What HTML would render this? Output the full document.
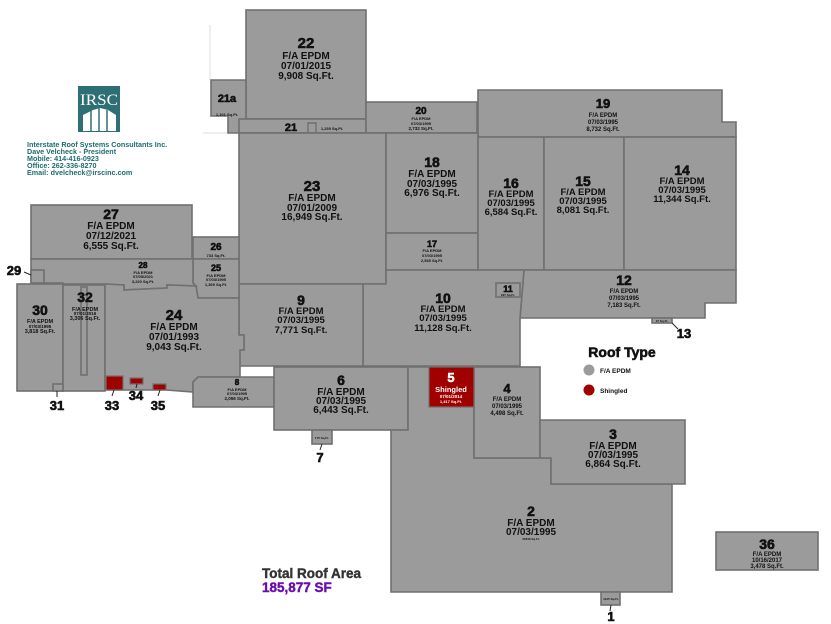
<!DOCTYPE html>
<html><head><meta charset="utf-8"><style>
html,body{margin:0;padding:0;background:#fff;}
svg{display:block;}
text{font-family:"Liberation Sans",Arial,sans-serif;font-weight:bold;text-anchor:middle;fill:#111;}
.n{stroke:#111;stroke-width:0.6;}
</style></head><body>
<svg width="831" height="624" viewBox="0 0 831 624" xmlns="http://www.w3.org/2000/svg">
<g fill="none" stroke="#ddd" stroke-width="1">
<line x1="210" y1="25" x2="210" y2="80"/><line x1="203" y1="133" x2="239" y2="133"/>
</g>
<g fill="#9b9b9b" stroke="#707070" stroke-width="1.6">
<rect x="246" y="10" width="120" height="109"/>
<polygon points="211,80 246,80 246,133 228,133 228,116 211,116"/>
<rect x="239" y="119" width="127" height="14"/>
<rect x="366" y="102" width="111" height="31"/>
<polygon points="478,90 722,90 722,122 736,122 736,137 478,137"/>
<rect x="239" y="133" width="147" height="151"/>
<rect x="386" y="133" width="92" height="100"/>
<rect x="386" y="233" width="92" height="37"/>
<rect x="478" y="137" width="66" height="133"/>
<rect x="544" y="137" width="80" height="133"/>
<rect x="624" y="137" width="112" height="133"/>
<polygon points="524,270 736,270 736,303 705,303 705,318 520,318"/>
<rect x="652" y="318" width="20" height="5"/>
<polygon points="386,270 524,270 520,318 520,366 363,366 363,284 386,284"/>
<rect x="496" y="283" width="24" height="14"/>
<polygon points="239,284 363,284 363,366 239,366 239,350 244,350 244,335 239,335"/>
<rect x="31" y="205" width="161" height="54"/>
<rect x="193" y="237" width="46" height="22"/>
<polygon points="193,259 239,259 239,298 198,298 196,286 193,283"/>
<polygon points="31,259 193,259 193,283 196,286 167,285 167,288 124,290 124,285 105,284 63,284 63,283 31,283"/>
<rect x="31" y="270" width="13" height="13"/>
<rect x="17" y="284" width="46" height="107"/>
<rect x="63" y="285" width="42" height="106"/>
<rect x="81" y="287" width="6" height="88"/>
<polygon points="105,284 124,285 124,290 167,288 167,285 196,286 198,298 239,298 239,335 244,335 244,350 240,350 240,377 198,377 193,382 193,392 166,390 106,390 105,390"/>
<rect x="53" y="384" width="10" height="7"/>
<polygon points="198,377 274,377 274,407 193,407 193,382"/>
<rect x="274" y="367" width="134" height="63"/>
<rect x="312" y="430" width="20" height="14"/>
<polygon points="408,367 474,367 474,458 551,458 551,484 672,484 672,592 391,592 391,430 408,430"/>
<rect x="601" y="592" width="19" height="13"/>
<rect x="474" y="367" width="66" height="91"/>
<polygon points="540,420 685,420 685,484 551,484 551,458 540,458"/>
<rect x="716" y="532" width="102" height="38"/>
</g>
<polyline points="308,133 308,123 316,123 316,133" fill="none" stroke="#707070" stroke-width="1.4"/>
<g fill="#a00000" stroke="#707070" stroke-width="1.2">
<rect x="429" y="367" width="45" height="40"/>
<rect x="106" y="376" width="17" height="14"/>
<rect x="130" y="378" width="13" height="6"/>
<rect x="153" y="384" width="13" height="6"/>
</g>
<g stroke="#222" stroke-width="1">
<line x1="24" y1="272" x2="31" y2="275"/>
<line x1="57" y1="391" x2="57" y2="397"/>
<line x1="114" y1="390" x2="112" y2="396"/>
<line x1="137" y1="384" x2="136" y2="388"/>
<line x1="160" y1="390" x2="158" y2="396"/>
<line x1="322" y1="444" x2="320" y2="450"/>
<line x1="611" y1="605" x2="610" y2="611"/>
<line x1="672" y1="323" x2="678" y2="329"/>
</g>
<g>
<text class="n" x="306" y="48" font-size="15">22</text>
<text x="306" y="59" font-size="10">F/A EPDM</text>
<text x="306" y="69" font-size="10">07/01/2015</text>
<text x="306" y="79" font-size="10">9,908 Sq.Ft.</text>
<text class="n" x="227" y="102" font-size="11">21a</text>
<text x="227" y="116" font-size="4">1,101 Sq.Ft.</text>
<text class="n" x="291" y="131" font-size="11">21</text>
<text x="332" y="130" font-size="4">1,239 Sq.Ft.</text>
<text class="n" x="421" y="114" font-size="10">20</text>
<text x="421" y="120" font-size="4">F/A EPDM</text>
<text x="421" y="125" font-size="4">07/03/1995</text>
<text x="421" y="130" font-size="4.5">2,732 Sq.Ft.</text>
<text class="n" x="603" y="108" font-size="13">19</text>
<text x="603" y="117" font-size="6">F/A EPDM</text>
<text x="603" y="124" font-size="6">07/03/1995</text>
<text x="603" y="131" font-size="6">8,732 Sq.Ft.</text>
<text class="n" x="312" y="191" font-size="15">23</text>
<text x="312" y="201" font-size="10">F/A EPDM</text>
<text x="312" y="211" font-size="10">07/01/2009</text>
<text x="312" y="220" font-size="10">16,949 Sq.Ft.</text>
<text class="n" x="432" y="167" font-size="14">18</text>
<text x="432" y="177" font-size="10">F/A EPDM</text>
<text x="432" y="187" font-size="10">07/03/1995</text>
<text x="432" y="196" font-size="10">6,976 Sq.Ft.</text>
<text class="n" x="432" y="247" font-size="9">17</text>
<text x="432" y="252" font-size="4">F/A EPDM</text>
<text x="432" y="257" font-size="4">07/03/1995</text>
<text x="432" y="262" font-size="4">2,535 Sq.Ft.</text>
<text class="n" x="511" y="188" font-size="14">16</text>
<text x="511" y="197" font-size="9.5">F/A EPDM</text>
<text x="511" y="206" font-size="9.5">07/03/1995</text>
<text x="511" y="215" font-size="9.5">6,584 Sq.Ft.</text>
<text class="n" x="583" y="186" font-size="14">15</text>
<text x="583" y="195" font-size="9.5">F/A EPDM</text>
<text x="583" y="204" font-size="9.5">07/03/1995</text>
<text x="583" y="213" font-size="9.5">8,081 Sq.Ft.</text>
<text class="n" x="682" y="175" font-size="14">14</text>
<text x="682" y="184" font-size="9.5">F/A EPDM</text>
<text x="682" y="193" font-size="9.5">07/03/1995</text>
<text x="682" y="202" font-size="9.5">11,344 Sq.Ft.</text>
<text class="n" x="624" y="285" font-size="14">12</text>
<text x="624" y="293" font-size="6">F/A EPDM</text>
<text x="624" y="300" font-size="6">07/03/1995</text>
<text x="624" y="307" font-size="6">7,183 Sq.Ft.</text>
<text class="n" x="508" y="292" font-size="9">11</text>
<text x="508" y="296" font-size="3">297 Sq.Ft.</text>
<text class="n" x="443" y="303" font-size="14">10</text>
<text x="443" y="312" font-size="9.5">F/A EPDM</text>
<text x="443" y="321" font-size="9.5">07/03/1995</text>
<text x="443" y="331" font-size="9.5">11,128 Sq.Ft.</text>
<text class="n" x="301" y="305" font-size="14">9</text>
<text x="301" y="314" font-size="9.5">F/A EPDM</text>
<text x="301" y="323" font-size="9.5">07/03/1995</text>
<text x="301" y="333" font-size="9.5">7,771 Sq.Ft.</text>
<text class="n" x="174" y="320" font-size="15">24</text>
<text x="174" y="330" font-size="10">F/A EPDM</text>
<text x="174" y="340" font-size="10">07/01/1993</text>
<text x="174" y="350" font-size="10">9,043 Sq.Ft.</text>
<text class="n" x="111" y="219" font-size="14">27</text>
<text x="111" y="229" font-size="10">F/A EPDM</text>
<text x="111" y="239" font-size="10">07/12/2021</text>
<text x="111" y="249" font-size="10">6,555 Sq.Ft.</text>
<text class="n" x="216" y="250" font-size="10">26</text>
<text x="216" y="257" font-size="4">733 Sq.Ft.</text>
<text class="n" x="216" y="271" font-size="9">25</text>
<text x="216" y="277" font-size="4">F/A EPDM</text>
<text x="216" y="281" font-size="4">07/03/1995</text>
<text x="216" y="286" font-size="4">1,369 Sq.Ft.</text>
<text class="n" x="143" y="268" font-size="8">28</text>
<text x="143" y="274" font-size="4">F/A EPDM</text>
<text x="143" y="278" font-size="4">07/05/2021</text>
<text x="143" y="283" font-size="4">3,220 Sq.Ft.</text>
<text class="n" x="40" y="315" font-size="14">30</text>
<text x="40" y="323" font-size="5.5">F/A EPDM</text>
<text x="40" y="328" font-size="4.5">07/03/1995</text>
<text x="40" y="333" font-size="5.5">3,818 Sq.Ft.</text>
<text class="n" x="85" y="302" font-size="14">32</text>
<text x="85" y="311" font-size="5.5">F/A EPDM</text>
<text x="85" y="315" font-size="4.5">07/01/2016</text>
<text x="85" y="320" font-size="5.5">3,306 Sq.Ft.</text>
<text class="n" x="237" y="385" font-size="8">8</text>
<text x="237" y="391" font-size="4">F/A EPDM</text>
<text x="237" y="395" font-size="4">07/03/1995</text>
<text x="237" y="400" font-size="4.5">2,056 Sq.Ft.</text>
<text class="n" x="341" y="385" font-size="14">6</text>
<text x="341" y="395" font-size="10">F/A EPDM</text>
<text x="341" y="404" font-size="10">07/03/1995</text>
<text x="341" y="413" font-size="10">6,443 Sq.Ft.</text>
<text x="451" y="382" font-size="13" style="fill:#fff;stroke:#fff;stroke-width:0.5">5</text>
<text x="451" y="392" font-size="7.5" style="fill:#fff">Shingled</text>
<text x="451" y="398" font-size="4.5" style="fill:#fff">07/01/2014</text>
<text x="451" y="403" font-size="4" style="fill:#fff">1,417 Sq.Ft.</text>
<text class="n" x="507" y="393" font-size="13">4</text>
<text x="507" y="401" font-size="6">F/A EPDM</text>
<text x="507" y="408" font-size="6">07/03/1995</text>
<text x="507" y="415" font-size="6">4,498 Sq.Ft.</text>
<text class="n" x="613" y="439" font-size="14">3</text>
<text x="613" y="449" font-size="10">F/A EPDM</text>
<text x="613" y="458" font-size="10">07/03/1995</text>
<text x="613" y="467" font-size="10">6,864 Sq.Ft.</text>
<text class="n" x="531" y="516" font-size="14">2</text>
<text x="531" y="526" font-size="10">F/A EPDM</text>
<text x="531" y="535" font-size="10">07/03/1995</text>
<text x="531" y="540" font-size="3">35848 Sq.Ft.</text>
<text class="n" x="767" y="549" font-size="14">36</text>
<text x="767" y="556" font-size="6">F/A EPDM</text>
<text x="767" y="562" font-size="6">10/16/2017</text>
<text x="767" y="568" font-size="6">3,478 Sq.Ft.</text>
<text x="611" y="600" font-size="3">1125 Sq.Ft.</text>
<text x="322" y="439" font-size="3">175 Sq.Ft.</text>
<text x="662" y="322" font-size="3">27 Sq.Ft.</text>
<text class="n" x="611" y="621" font-size="13">1</text>
<text class="n" x="320" y="462" font-size="13">7</text>
<text class="n" x="684" y="338" font-size="13">13</text>
<text class="n" x="14" y="275" font-size="13">29</text>
<text class="n" x="57" y="410" font-size="13">31</text>
<text class="n" x="112" y="410" font-size="13">33</text>
<text class="n" x="136" y="400" font-size="13">34</text>
<text class="n" x="158" y="410" font-size="13">35</text>
</g>
<text class="n" x="622" y="357" font-size="14">Roof Type</text>
<circle cx="589" cy="370" r="5.5" fill="#9b9b9b"/>
<circle cx="589" cy="390" r="5.5" fill="#a00000"/>
<text x="600" y="373" font-size="6.5" style="text-anchor:start">F/A EPDM</text>
<text x="600" y="393" font-size="6.5" style="text-anchor:start">Shingled</text>
<text x="262" y="578" font-size="13.5" style="text-anchor:start;fill:#333;stroke:#333;stroke-width:0.4">Total Roof Area</text>
<text x="262" y="592" font-size="13.5" style="text-anchor:start;fill:#6a0dad;stroke:#6a0dad;stroke-width:0.4">185,877 SF</text>
<rect x="78" y="86" width="42" height="46" fill="#2d6f75"/>
<text x="99" y="105" font-size="16" style="fill:#fff;font-family:'Liberation Serif',serif;font-weight:normal" textLength="38" lengthAdjust="spacingAndGlyphs">IRSC</text>
<polygon points="83,131 83,115 93,110 100,108 108,110 116,115 116,131" fill="#fff"/>
<g stroke="#2d6f75" stroke-width="1.5"><line x1="91" y1="110" x2="91" y2="131"/><line x1="99" y1="108" x2="99" y2="131"/><line x1="107" y1="110" x2="107" y2="131"/></g>
<g font-size="7.2">
<text x="27" y="147" style="text-anchor:start;fill:#1f6b70">Interstate Roof Systems Consultants Inc.</text>
<text x="27" y="154" style="text-anchor:start;fill:#1f6b70">Dave Velcheck - President</text>
<text x="27" y="161" style="text-anchor:start;fill:#1f6b70">Mobile: 414-416-0923</text>
<text x="27" y="168" style="text-anchor:start;fill:#1f6b70">Office: 262-336-8270</text>
<text x="27" y="175" style="text-anchor:start;fill:#1f6b70">Email: dvelcheck@irscinc.com</text>
</g>
</svg>
</body></html>
